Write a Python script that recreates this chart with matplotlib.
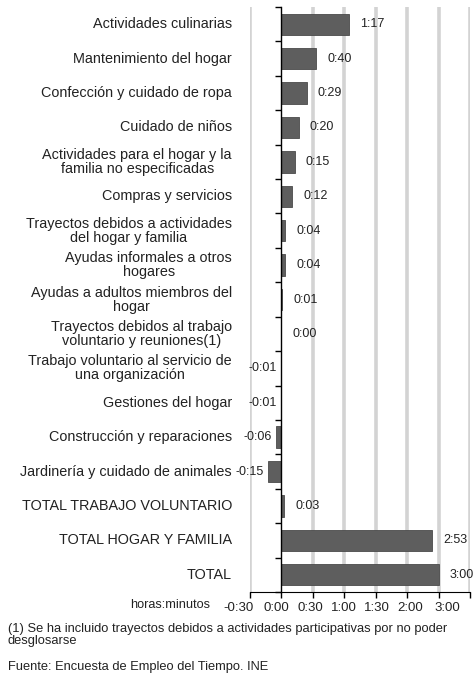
import matplotlib
matplotlib.use('Agg')
import matplotlib.pyplot as plt
import matplotlib.transforms as mtransforms
import numpy as np

plt.rcParams['font.family'] = ['Liberation Sans', 'DejaVu Sans']

categorias = [
    'Actividades culinarias',
    'Mantenimiento del hogar',
    'Confección y cuidado de ropa',
    'Cuidado de niños',
    'Actividades para el hogar y la\nfamilia no especificadas',
    'Compras y servicios',
    'Trayectos debidos a actividades\ndel hogar y familia',
    'Ayudas informales a otros\nhogares',
    'Ayudas a adultos miembros del\nhogar',
    'Trayectos debidos al trabajo\nvoluntario y reuniones(1)',
    'Trabajo voluntario al servicio de\nuna organización',
    'Gestiones del hogar',
    'Construcción y reparaciones',
    'Jardinería y cuidado de animales',
    'TOTAL TRABAJO VOLUNTARIO',
    'TOTAL HOGAR Y FAMILIA',
    'TOTAL',
]
# diferencia en minutos
minutos = [77, 40, 29, 20, 15, 12, 4, 4, 1, 0, -1, -1, -6, -15, 3, 173, 180]

# eje en minutos (unidad principal 36 min como en el original)
x_ticks = [-36, 0, 36, 72, 108, 144, 180, 216]
x_ticklabels = ['-0:30', '0:00', '0:30', '1:00', '1:30', '2:00', '3:00', '']
# desplazamiento (px) de cada etiqueta respecto a su marca, como en el original
label_shift = [-11, -5, -2, 0, 1, 3, 9, 0]


def hmm(m):
    s = '-' if m < 0 else ''
    m = abs(m)
    return '%s%d:%02d' % (s, m // 60, m % 60)


fig = plt.figure(figsize=(4.77, 6.74), dpi=100)
ax = fig.add_axes([250 / 477, 1 - 592 / 674, 220 / 477, 585 / 674])

n = len(categorias)
y = np.arange(n)
ax.set_ylim(n - 0.5, -0.5)
ax.set_xlim(x_ticks[0], x_ticks[-1])

for xv in x_ticks:
    if xv != 0:
        ax.axvline(xv, color='#d3d3d3', lw=2.6, zorder=0)

ax.barh(y, minutos, height=0.62, color='#5e5e5e', edgecolor='#4a4a4a', lw=0.6, zorder=2)

for yi, m in zip(y, minutos):
    if m >= 0:
        ax.annotate(hmm(m), (m, yi), xytext=(8, 0), textcoords='offset points',
                    ha='left', va='center', fontsize=9, color='#222222')
    else:
        ax.annotate(hmm(m), (m, yi), xytext=(-3, 0), textcoords='offset points',
                    ha='right', va='center', fontsize=9, color='#222222')

# etiquetas de categorias
trans = mtransforms.blended_transform_factory(ax.transAxes, ax.transData)
for yi, c in zip(y, categorias):
    ax.text(-18 / 220, yi, c, transform=trans, ha='right', va='center',
            multialignment='center', fontsize=10.4, color='#222222', linespacing=1.0)

# eje vertical en cero con marcas entre categorias
ax.spines['left'].set_position(('data', 0))
ax.spines['left'].set_color('black')
ax.spines['left'].set_linewidth(1.0)
ax.set_yticks(np.arange(-0.5, n, 1))
ax.set_yticklabels([])
ax.tick_params(axis='y', length=4, width=1, direction='out', color='black')

ax.spines['top'].set_visible(False)
ax.spines['right'].set_visible(False)
ax.spines['bottom'].set_color('black')
ax.set_xticks(x_ticks)
ax.set_xticklabels(x_ticklabels, fontsize=9.5, color='#222222')
ax.tick_params(axis='x', length=4, width=1, pad=3)

for lbl, dx in zip(ax.get_xticklabels(), label_shift):
    lbl.set_transform(lbl.get_transform() + mtransforms.ScaledTranslation(dx / 100, 0, fig.dpi_scale_trans))

fig.text(130 / 477, 1 - 605 / 674, 'horas:minutos', fontsize=9.2, va='center', ha='left', color='#222222')
fig.text(8 / 477, 1 - 623 / 674,
         '(1) Se ha incluido trayectos debidos a actividades participativas por no poder\ndesglosarse',
         fontsize=9.3, va='top', ha='left', color='#222222', linespacing=0.95)
fig.text(8 / 477, 1 - 667 / 674, 'Fuente: Encuesta de Empleo del Tiempo. INE',
         fontsize=9.3, va='center', ha='left', color='#222222')

fig.savefig('out.png', dpi=100)
